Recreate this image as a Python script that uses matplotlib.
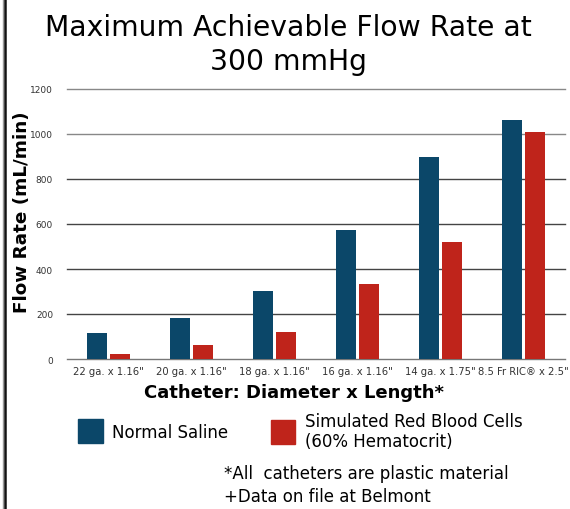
import numpy as np
import matplotlib
matplotlib.use('Agg')
import matplotlib.pyplot as plt
from matplotlib.patches import Rectangle
from matplotlib.lines import Line2D

catheters = ['22 ga. x 1.16"', '20 ga. x 1.16"', '18 ga. x 1.16"',
             '16 ga. x 1.16"', '14 ga. x 1.75"', '8.5 Fr RIC\u00ae x 2.5"']
saline = [114, 183, 302, 575, 900, 1062]
rbc = [22, 64, 122, 332, 519, 1007]
yticks = [0, 200, 400, 600, 800, 1000, 1200]

blue = '#0b4769'
red = '#bf241b'
plt.rcParams['font.family'] = ['DejaVu Sans']

fig = plt.figure(figsize=(5.7, 5.1), dpi=100)
ax = fig.add_axes([67/570, 1-360/510, 498/570, 270/510])

x = np.arange(len(catheters))
width = 0.235
ax.bar(x - 0.14, saline, width, color=blue, zorder=3)
ax.bar(x + 0.14, rbc, width, color=red, zorder=3)

ax.set_xlim(-0.5, len(catheters) - 0.5)
ax.set_ylim(0, 1200)
ax.set_yticks(yticks)
ax.set_yticklabels([str(v) for v in yticks], fontsize=6.5, color='#333333')
ax.set_xticks(x)
ax.set_xticklabels(catheters, fontsize=7.2, color='#333333')
ax.tick_params(axis='both', length=0)
ax.tick_params(axis='y', pad=10)
ax.tick_params(axis='x', pad=5)
for v in yticks:
    c = '#888888' if v >= 1000 else '#444444'
    if v == 0:
        c = '#777777'
    ax.axhline(v, color=c, lw=1, zorder=1, clip_on=False)
for s in ax.spines.values():
    s.set_visible(False)

ax.set_ylabel('Flow Rate (mL/min)', fontsize=13.2, fontweight='bold')
ax.yaxis.set_label_coords(-0.072, 0.548)
ax.set_xlabel('Catheter: Diameter x Length*', fontsize=13, fontweight='bold')
ax.xaxis.set_label_coords(0.456, -0.09)

fig.text(288/570, 1-45/510, 'Maximum Achievable Flow Rate at\n300 mmHg',
         ha='center', va='center', fontsize=20.3, linespacing=1.3)

# legend
fig.patches.append(Rectangle((78/570, 1-444/510), 25/570, 24/510,
                             transform=fig.transFigure, color=blue))
fig.text(112/570, 1-433/510, 'Normal Saline', fontsize=12, va='center')
fig.patches.append(Rectangle((271/570, 1-445/510), 24/570, 24/510,
                             transform=fig.transFigure, color=red))
fig.text(305/570, 1-432/510, 'Simulated Red Blood Cells\n(60% Hematocrit)',
         fontsize=12, va='center', linespacing=1.2)

fig.text(224/570, 1-474/510, '*All  catheters are plastic material', fontsize=12, va='center')
fig.text(224/570, 1-497/510, '+Data on file at Belmont', fontsize=12, va='center')

# border on the left edge
fig.add_artist(Line2D([2.5/570, 2.5/570], [0, 1], color='#999999', lw=1, transform=fig.transFigure))
fig.add_artist(Line2D([5/570, 5/570], [0, 1], color='#111111', lw=1.8, transform=fig.transFigure))

fig.savefig('out.png', dpi=100)
